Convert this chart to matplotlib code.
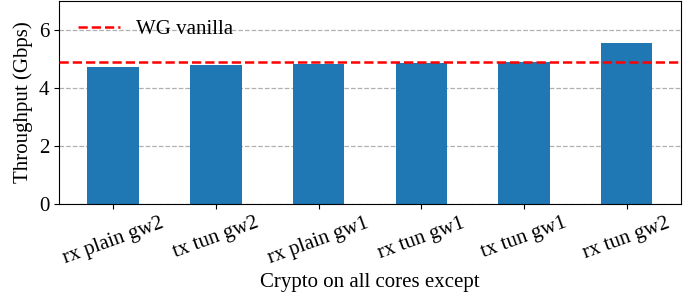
import matplotlib
matplotlib.use('Agg')
import matplotlib.pyplot as plt

plt.rcParams['font.family'] = ['Liberation Serif', 'DejaVu Serif']
plt.rcParams['font.size'] = 15

labels = ['rx plain gw2', 'tx tun gw2', 'rx plain gw1', 'rx tun gw1', 'tx tun gw1', 'rx tun gw2']
throughput = [4.73, 4.77, 4.81, 4.84, 4.87, 5.55]
vanilla = 4.87

fig = plt.figure(figsize=(6.96, 2.99), dpi=100)
ax = fig.add_axes([0.085, 0.318, 0.893, 0.68])
ax.bar(range(len(labels)), throughput, width=0.5, color='#1f77b4', zorder=2)
ax.axhline(vanilla, color='red', linestyle='--', linewidth=1.8, label='WG vanilla', zorder=3)
ax.set_ylim(0, 7)
ax.set_yticks([0, 2, 4, 6])
ax.set_xticks(range(len(labels)))
ax.set_xticklabels(labels, rotation=20)
ax.yaxis.grid(True, linestyle='--', color='#b0b0b0', linewidth=0.9, zorder=0)
ax.set_axisbelow(True)
ax.set_ylabel('Throughput (Gbps)')
ax.set_xlabel('Crypto on all cores except')
ax.legend(loc='upper left', frameon=False)
fig.savefig('out.png', dpi=100)
